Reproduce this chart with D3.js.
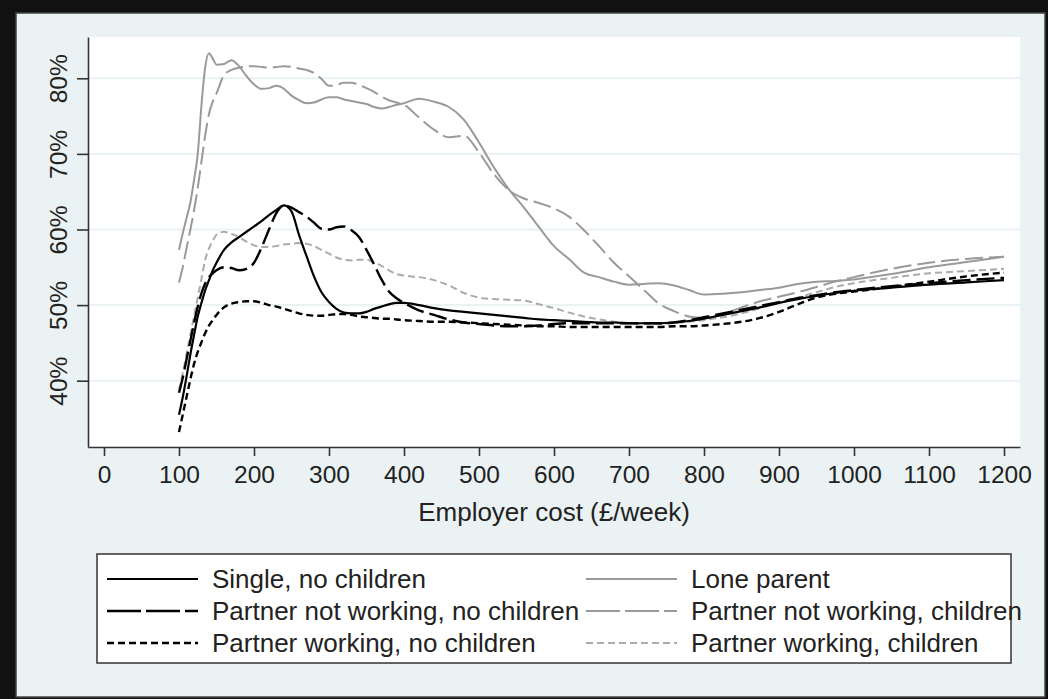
<!DOCTYPE html>
<html>
<head>
<meta charset="utf-8">
<script src="https://cdn.jsdelivr.net/npm/d3@7"></script>
<style>
body { margin:0; background:#fff; }
svg text { font-family: "Liberation Sans", Arial, sans-serif; fill:#222; }
</style>
</head>
<body>
<div id="chart"></div>
<script>
// employer cost (£/week) sample points
var cost = [100,105,110,115,120,125,130,135,140,145,150,
  160,170,180,190,200,210,220,230,240,250,260,270,280,290,300,310,320,330,340,350,360,370,380,390,400,
  420,440,460,480,500,520,540,560,580,600,620,640,660,680,700,720,740,760,780,800,
  825,850,875,900,925,950,975,1000,
  1050,1100,1150,1200];

// values in % for each family type
var singleNoKids = [35.5,37.8,40.5,43.4,46.0,48.5,50.3,52.0,53.3,54.6,55.6,
  57.3,58.3,59.0,59.7,60.4,61.1,61.9,62.6,63.2,62.4,59.3,56.5,53.8,51.7,50.4,49.5,49.0,48.9,48.9,49.1,49.5,49.8,50.1,50.3,50.3,
  50.0,49.6,49.3,49.1,48.9,48.7,48.5,48.3,48.1,48.0,47.9,47.8,47.7,47.7,47.6,47.6,47.6,47.7,47.9,48.2,
  48.7,49.2,49.7,50.3,50.8,51.2,51.6,51.9,
  52.3,52.7,53.0,53.3];
var pnwNoKids = [38.4,40.4,42.8,45.2,47.6,49.8,51.6,52.9,53.7,54.2,54.6,
  55.0,54.9,54.6,54.8,55.6,57.6,60.0,62.2,63.2,62.9,62.3,61.7,60.9,60.1,60.0,60.3,60.4,59.9,59.0,57.3,55.4,53.4,51.8,50.9,50.3,
  49.3,48.7,48.1,47.7,47.5,47.3,47.2,47.2,47.3,47.5,47.6,47.6,47.6,47.6,47.6,47.6,47.6,47.7,48.0,48.4,
  48.9,49.4,49.9,50.4,50.9,51.3,51.7,52.0,
  52.5,52.9,53.3,53.6];
var pwNoKids = [33.2,35.5,37.8,40.1,42.2,43.8,45.1,46.3,47.3,48.0,48.7,
  49.7,50.2,50.4,50.5,50.5,50.3,50.0,49.8,49.5,49.2,48.9,48.7,48.6,48.6,48.7,48.8,48.8,48.7,48.5,48.4,48.3,48.2,48.2,48.1,48.0,
  47.9,47.8,47.8,47.7,47.6,47.5,47.4,47.3,47.2,47.2,47.1,47.1,47.1,47.1,47.1,47.1,47.1,47.2,47.2,47.3,
  47.5,47.8,48.3,49.1,50.1,51.0,51.5,51.8,
  52.4,53.1,53.8,54.3];
var loneParent = [57.3,59.5,61.5,63.5,66.5,70.0,76.5,81.5,83.3,82.6,81.8,
  81.9,82.4,81.6,80.3,79.2,78.6,78.7,79.0,78.6,77.7,77.1,76.7,76.8,77.2,77.5,77.5,77.2,77.0,76.8,76.6,76.2,76.0,76.2,76.5,76.7,
  77.3,76.9,76.2,74.5,71.5,68.2,65.3,62.9,60.3,57.8,56.1,54.3,53.7,53.1,52.7,52.8,52.9,52.6,52.0,51.4,
  51.5,51.7,52.0,52.3,52.8,53.1,53.2,53.4,
  54.1,55.0,55.7,56.4];
var pnwKids = [53.0,55.0,57.5,59.9,62.5,65.5,69.0,72.5,75.3,76.9,78.0,
  80.4,81.1,81.4,81.6,81.6,81.5,81.4,81.5,81.6,81.5,81.3,81.1,80.7,79.9,79.0,79.1,79.4,79.4,79.1,78.7,78.2,77.6,77.1,76.8,76.5,
  74.8,73.2,72.2,72.4,70.2,67.3,65.2,64.1,63.5,62.8,61.7,59.9,57.8,55.6,53.8,52.0,50.2,49.2,48.5,48.3,
  48.8,49.7,50.5,51.1,51.7,52.4,53.1,53.7,
  54.8,55.6,56.1,56.4];
var pwKids = [38.8,41.0,43.5,46.0,48.5,51.0,53.5,56.0,57.5,58.5,59.3,
  59.7,59.4,59.0,58.4,57.9,57.7,57.7,57.8,58.0,58.1,58.2,58.1,57.8,57.3,56.8,56.3,56.0,55.9,56.0,56.0,55.6,55.2,54.6,54.1,53.9,
  53.7,53.3,52.6,51.6,51.0,50.8,50.7,50.6,50.1,49.6,49.0,48.5,48.1,47.8,47.6,47.5,47.5,47.6,47.8,48.0,
  48.4,48.9,49.6,50.3,51.0,51.7,52.4,52.9,
  53.6,54.2,54.5,54.8];

var seriesNames = ["Single, no children", "Partner not working, no children", "Partner working, no children",
  "Lone parent", "Partner not working, children", "Partner working, children"];
var xTicks = [0,100,200,300,400,500,600,700,800,900,1000,1100,1200];
var yTicks = [40,50,60,70,80];

var width = 1048, height = 699;
var plot = {left: 88, top: 37, right: 1020, bottom: 447};

var svg = d3.select("#chart").append("svg")
  .attr("width", width)
  .attr("height", height);

// outer frame + light panel
svg.append("rect").attr("width", width).attr("height", height).attr("fill", "#111");
svg.append("rect")
  .attr("x", 16).attr("y", 13)
  .attr("width", 1029).attr("height", 684)
  .attr("fill", "#eaf2f3")
  .attr("stroke", "#444").attr("stroke-width", 1.5);

svg.append("rect")
  .attr("x", plot.left).attr("y", plot.top)
  .attr("width", plot.right - plot.left).attr("height", plot.bottom - plot.top)
  .attr("fill", "#fff");

var x = d3.scaleLinear().domain([-21.33, 1221.33]).range([plot.left, plot.right]);
var y = d3.scaleLinear().domain([31.23, 85.46]).range([plot.bottom, plot.top]);

// gridlines
svg.append("g").selectAll("line")
  .data(yTicks)
  .enter().append("line")
  .attr("x1", plot.left).attr("x2", plot.right)
  .attr("y1", d => y(d)).attr("y2", d => y(d))
  .attr("stroke", "#eaf2f3").attr("stroke-width", 2);

// styles for each series
var styles = [
  {data: singleNoKids, color: "#000", dash: null, legendDash: null, w: 2.2},
  {data: pnwNoKids, color: "#000", dash: "18,6", legendDash: "34,5", w: 2.4},
  {data: pwNoKids, color: "#000", dash: "7,4", legendDash: "7,4", w: 2.4},
  {data: loneParent, color: "#9a9a9a", dash: null, legendDash: null, w: 2},
  {data: pnwKids, color: "#9a9a9a", dash: "18,6", legendDash: "34,5", w: 2},
  {data: pwKids, color: "#ababab", dash: "7,4", legendDash: "7,4", w: 2}
];

var line = d3.line()
  .x((d, i) => x(cost[i]))
  .y(d => y(d))
  .curve(d3.curveMonotoneX);

var drawOrder = [3, 4, 5, 0, 1, 2];
svg.append("g").selectAll("path")
  .data(drawOrder.map(k => styles[k]))
  .enter().append("path")
  .attr("d", s => line(s.data))
  .attr("fill", "none")
  .attr("stroke", s => s.color)
  .attr("stroke-width", s => s.w)
  .attr("stroke-dasharray", s => s.dash)
  .attr("stroke-linejoin", "round");

// axes
var xAxis = svg.append("g")
  .attr("transform", "translate(0," + plot.bottom + ")")
  .call(d3.axisBottom(x).tickValues(xTicks).tickSize(9).tickSizeOuter(0).tickPadding(10).tickFormat(d3.format("d")));
xAxis.selectAll("text").style("font-size", "24.5px").attr("dy", "0.71em");

var yAxis = svg.append("g")
  .attr("transform", "translate(" + plot.left + ",0)")
  .call(d3.axisLeft(y).tickValues(yTicks).tickSize(11).tickSizeOuter(0).tickFormat(d => d + "%"));
yAxis.selectAll("text")
  .style("font-size", "24.5px")
  .attr("text-anchor", "middle")
  .attr("transform", "rotate(-90)")
  .attr("x", 0).attr("y", -21).attr("dy", 0);

svg.selectAll(".domain").attr("stroke", "#333").attr("stroke-width", 1.6);
svg.selectAll(".tick line").attr("stroke", "#333").attr("stroke-width", 1.6);

svg.append("text")
  .attr("x", 554).attr("y", 521)
  .attr("text-anchor", "middle")
  .style("font-size", "26px")
  .text("Employer cost (£/week)");

// legend
var legend = svg.append("g");
legend.append("rect")
  .attr("x", 97).attr("y", 554)
  .attr("width", 914).attr("height", 109)
  .attr("fill", "#fff")
  .attr("stroke", "#333").attr("stroke-width", 1.5);

var items = legend.selectAll("g.item")
  .data(styles)
  .enter().append("g")
  .attr("class", "item")
  .attr("transform", (d, i) => "translate(" + (i < 3 ? 107 : 586) + "," + (579 + (i % 3) * 32) + ")");

items.append("line")
  .attr("x1", 0).attr("x2", 91)
  .attr("stroke", d => d.color)
  .attr("stroke-width", d => d.w)
  .attr("stroke-dasharray", d => d.legendDash);

items.append("text")
  .attr("x", 105).attr("y", 9)
  .style("font-size", "26px")
  .text((d, i) => seriesNames[i]);
</script>
</body>
</html>
